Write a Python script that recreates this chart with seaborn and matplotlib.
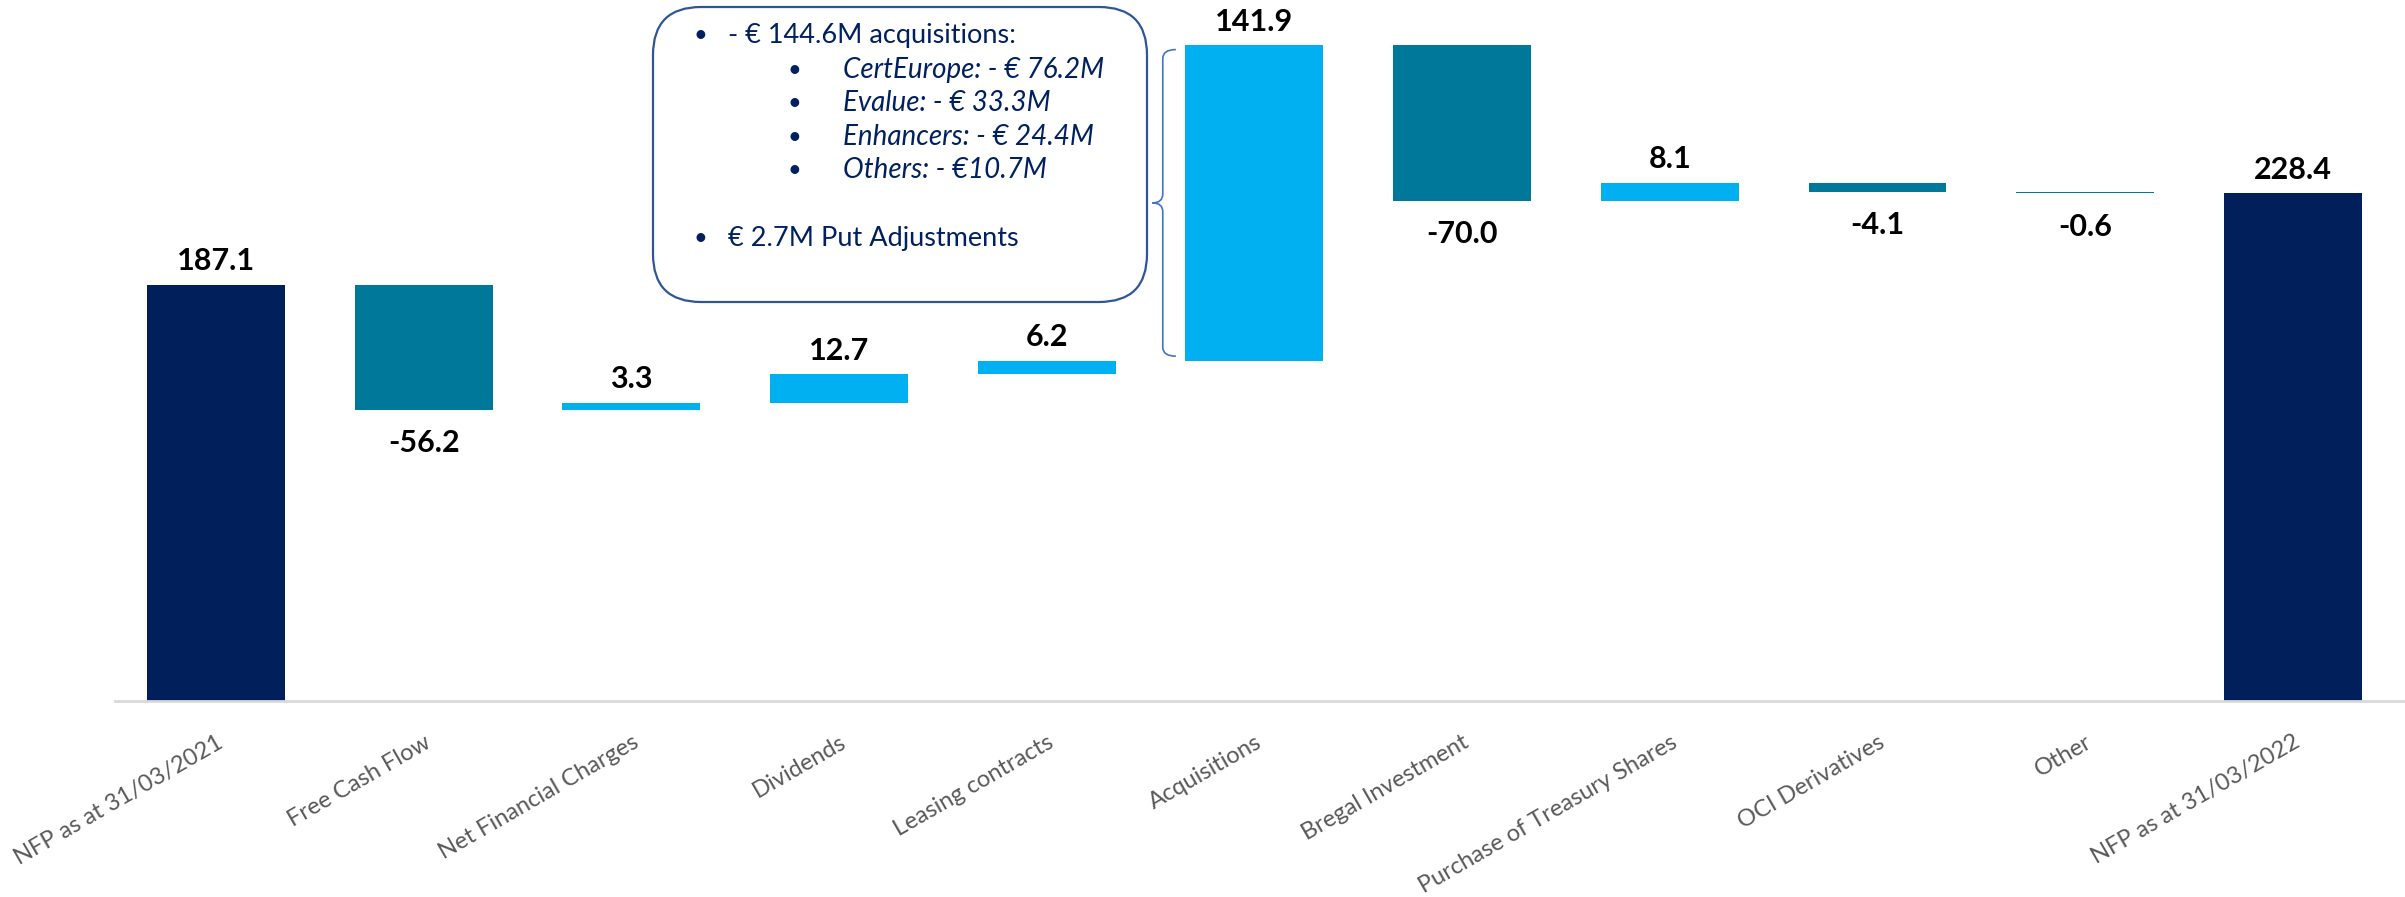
import numpy as np
import pandas as pd
import matplotlib.pyplot as plt
import seaborn as sns
from matplotlib.path import Path
from matplotlib.patches import PathPatch, FancyBboxPatch

# NFP bridge, € millions
steps = ["NFP as at 31/03/2021", "Free Cash Flow", "Net Financial Charges", "Dividends",
         "Leasing contracts", "Acquisitions", "Bregal Investment",
         "Purchase of Treasury Shares", "OCI Derivatives", "Other", "NFP as at 31/03/2022"]
values = [187.1, -56.2, 3.3, 12.7, 6.2, 141.9, -70.0, 8.1, -4.1, -0.6, 228.4]
is_total = [True, False, False, False, False, False, False, False, False, False, True]

box_lines = ["- € 144.6M acquisitions:", "CertEurope: - € 76.2M", "Evalue: - € 33.3M",
             "Enhancers: - € 24.4M", "Others: - €10.7M", "€ 2.7M Put Adjustments"]

NAVY = "#001F5B"
TEAL = "#00789A"
LIGHT = "#00B0F0"

sns.set_theme(style="white")
plt.rcParams["font.family"] = ["Lato", "DejaVu Sans"]

# running level -> bar bottoms / heights
bottoms, heights, kinds = [], [], []
level = 0.0
for v, tot in zip(values, is_total):
    if tot:
        bottoms.append(0.0)
        heights.append(v)
        kinds.append("total")
        level = v
    else:
        bottoms.append(level if v > 0 else level + v)
        heights.append(abs(v))
        kinds.append("up" if v > 0 else "down")
        level += v

df = pd.DataFrame({"step": steps, "height": heights, "bottom": bottoms, "kind": kinds})
colors = {"total": NAVY, "up": LIGHT, "down": TEAL}

fig = plt.figure(figsize=(24.05, 8.97), dpi=100)
ax = fig.add_axes([0.0478, 0.2185, 0.9522, 0.7815])

sns.barplot(data=df, x="step", y="height", bottom=df["bottom"].values, color=NAVY,
            width=0.664, saturation=1, linewidth=0, ax=ax)
for patch, kind in zip(ax.patches, df["kind"]):
    patch.set_facecolor(colors[kind])

ax.set_xlim(-0.486, 10.54)
ax.set_ylim(0, 315.3)
ax.set_yticks([])
ax.set_xlabel("")
ax.set_ylabel("")
for s in ["left", "right", "top"]:
    ax.spines[s].set_visible(False)
ax.spines["bottom"].set_color("#D9D9D9")
ax.spines["bottom"].set_linewidth(2)

ax.tick_params(axis="x", length=0, pad=22)
ax.set_xticks(range(len(steps)))
ax.set_xticklabels(steps, rotation=30, ha="right", rotation_mode="anchor",
                   fontsize=17, color="#595959")

# value labels
for i, (v, b, h) in enumerate(zip(values, bottoms, heights)):
    if v >= 0:
        ax.annotate(f"{v:.1f}", (i, b + h), xytext=(0, 17), textcoords="offset points",
                    ha="center", va="center", fontsize=22, fontweight="bold", color="black")
    else:
        ax.annotate(f"{v:.1f}", (i, b), xytext=(0, -24), textcoords="offset points",
                    ha="center", va="center", fontsize=22, fontweight="bold", color="black")

# brace next to the acquisitions bar
acq = steps.index("Acquisitions")
top = bottoms[acq] + heights[acq] - 2
bot = bottoms[acq] + 2
mid = (top + bot) / 2
xr, xv, xl = acq - 0.378, acq - 0.441, acq - 0.491
d = 4
verts = [(xr, top), (xv, top), (xv, top - d), (xv, mid + d), (xv, mid), (xl, mid),
         (xv, mid), (xv, mid - d), (xv, bot + d), (xv, bot), (xr, bot)]
codes = [Path.MOVETO, Path.CURVE3, Path.CURVE3, Path.LINETO, Path.CURVE3, Path.CURVE3,
         Path.CURVE3, Path.CURVE3, Path.LINETO, Path.CURVE3, Path.CURVE3]
ax.add_patch(PathPatch(Path(verts, codes), fill=False, edgecolor="#4472C4", lw=1.2,
                       clip_on=False))

# callout box (in inches from bottom-left of the figure)
tr = fig.dpi_scale_trans
box = FancyBboxPatch((6.53, 5.95), 4.94, 2.95, boxstyle="round,pad=0,rounding_size=0.48",
                     transform=tr, facecolor="white", edgecolor="#2F5597", lw=1.6,
                     clip_on=False)
fig.patches.append(box)

TXT = "#002060"
rows = [(8.62, False, False), (8.27, True, True), (7.94, True, True),
        (7.60, True, True), (7.27, True, True), (6.59, False, False)]
for line, (y, sub, ital) in zip(box_lines, rows):
    bx, tx = (7.87, 8.43) if sub else (6.93, 7.28)
    fig.text(bx, y, "•", transform=tr, fontsize=17, color=TXT, va="center")
    fig.text(tx, y, line, transform=tr, fontsize=20 if ital else 19.5, color=TXT,
             va="center", fontstyle="italic" if ital else "normal")

fig.savefig("out.png", dpi=100)
